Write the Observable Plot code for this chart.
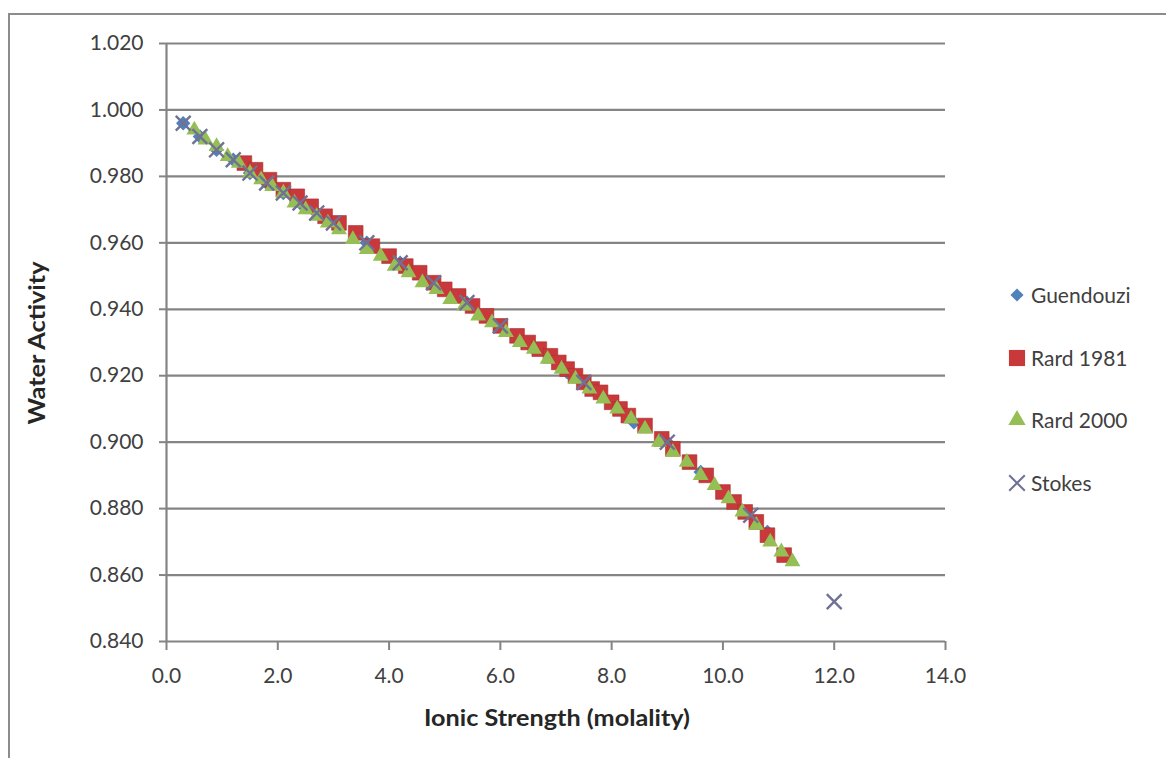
<!DOCTYPE html>
<html><head><meta charset="utf-8">
<script src="https://cdn.jsdelivr.net/npm/d3@7"></script>
<script src="https://cdn.jsdelivr.net/npm/@observablehq/plot@0.6"></script>
<style>
body{margin:0;background:#fff;}
#wrap{position:relative;width:1166px;height:758px;overflow:hidden;font-family:Lato,sans-serif;}
#frame{position:absolute;left:8px;top:13px;width:1300px;height:900px;border-left:2px solid #8c8c8c;border-top:2px solid #8c8c8c;}
#chart{position:absolute;left:0;top:0;}
#legend{position:absolute;left:0;top:0;}
</style></head><body>
<div id="wrap"><div id="frame"></div><div id="chart"></div></div>
<script>
// ---- data ----
const seriesNames = ["Guendouzi", "Rard 1981", "Rard 2000", "Stokes"];
const xTicks = [0, 2, 4, 6, 8, 10, 12, 14];
const yTicks = [0.84, 0.86, 0.88, 0.90, 0.92, 0.94, 0.96, 0.98, 1.00, 1.02];

const guendouziI  = [0.3,0.6,0.9,1.2,1.5,1.8,2.1,2.4,2.7,3.0,3.6,4.2,4.8,5.4,6.0,6.6,7.2,7.8,8.4,9.0,9.6,10.2,10.8];
const guendouziAw = [0.996,0.992,0.988,0.985,0.981,0.978,0.975,0.972,0.969,0.966,0.960,0.954,0.948,0.942,0.935,0.928,0.921,0.914,0.906,0.900,0.891,0.882,0.873];

const rard1981I  = [1.4,1.6,1.85,2.1,2.35,2.6,2.85,3.1,3.4,3.7,4.0,4.3,4.55,4.8,5.0,5.25,5.5,5.75,6.0,6.3,6.5,6.7,6.9,7.05,7.2,7.35,7.5,7.65,7.8,8.0,8.15,8.3,8.6,8.9,9.1,9.4,9.7,10.0,10.2,10.4,10.6,10.8,11.1];
const rard1981Aw = [0.984,0.982,0.979,0.976,0.974,0.971,0.968,0.966,0.963,0.959,0.956,0.953,0.951,0.948,0.946,0.944,0.941,0.938,0.935,0.932,0.930,0.928,0.926,0.924,0.922,0.920,0.918,0.916,0.915,0.912,0.910,0.908,0.905,0.901,0.898,0.894,0.890,0.885,0.882,0.879,0.876,0.872,0.866];

const rard2000I  = [0.5,0.7,0.9,1.1,1.3,1.5,1.7,1.9,2.1,2.3,2.5,2.7,2.9,3.1,3.35,3.6,3.85,4.1,4.35,4.6,4.85,5.1,5.35,5.6,5.85,6.1,6.35,6.6,6.85,7.1,7.35,7.6,7.85,8.1,8.35,8.6,8.85,9.1,9.35,9.6,9.85,10.1,10.35,10.6,10.85,11.05,11.25];
const rard2000Aw = [0.994,0.991,0.989,0.986,0.984,0.981,0.979,0.977,0.975,0.972,0.970,0.968,0.966,0.964,0.961,0.958,0.956,0.953,0.951,0.948,0.946,0.943,0.941,0.938,0.936,0.933,0.930,0.928,0.925,0.922,0.919,0.916,0.913,0.910,0.907,0.904,0.900,0.897,0.894,0.890,0.887,0.883,0.879,0.875,0.870,0.867,0.864];

const stokesI  = [0.3,0.6,0.9,1.2,1.5,1.8,2.1,2.4,2.7,3.0,3.6,4.2,4.8,5.4,6.0,7.5,9.0,10.5,12.0];
const stokesAw = [0.996,0.992,0.988,0.985,0.981,0.978,0.975,0.972,0.969,0.966,0.960,0.954,0.948,0.942,0.935,0.918,0.900,0.878,0.852];

const colors = {"Guendouzi":"#4F81BD","Rard 1981":"#C9383A","Rard 2000":"#95BF55","Stokes":"#6F7294"};

const toRows = (xs, ys, s) => xs.map((v, i) => ({I: v, aw: ys[i], series: s}));
const guendouzi = toRows(guendouziI, guendouziAw, "Guendouzi");
const rard1981 = toRows(rard1981I, rard1981Aw, "Rard 1981");
const rard2000 = toRows(rard2000I, rard2000Aw, "Rard 2000");
const stokes = toRows(stokesI, stokesAw, "Stokes");

const grid = "#848484";
const plot = Plot.plot({
  width: 1166, height: 758,
  marginLeft: 166, marginRight: 221, marginTop: 43, marginBottom: 117,
  style: {fontFamily: "Lato, sans-serif", fontSize: "21px", color: "#404040", background: "transparent", overflow: "visible"},
  x: {domain: [0, 14]},
  y: {domain: [0.84, 1.02]},
  marks: [
    Plot.ruleY(yTicks, {stroke: grid, strokeWidth: 2.2}),
    Plot.ruleX([0], {stroke: grid, strokeWidth: 2.2}),
    Plot.axisY({ticks: yTicks, tickFormat: d => d.toFixed(3), tickSize: 7, tickPadding: 16, stroke: grid, strokeWidth: 2, fill: "#404040", label: null}),
    Plot.axisX({ticks: xTicks, tickFormat: d => d.toFixed(1), tickSize: 9, tickPadding: 18, stroke: grid, strokeWidth: 2, fill: "#404040", label: null}),
    Plot.dot(guendouzi, {x: "I", y: "aw", symbol: "diamond2", r: 6.5, fill: colors["Guendouzi"], stroke: "none"}),
    Plot.dot(rard1981, {x: "I", y: "aw", symbol: "square", r: 8.3, fill: colors["Rard 1981"], stroke: "#A8302F", strokeWidth: 0.6}),
    Plot.dot(rard2000, {x: "I", y: "aw", symbol: "triangle", r: 5.9, fill: colors["Rard 2000"], stroke: "none"}),
    Plot.dot(stokes, {x: "I", y: "aw", symbol: "times", r: 6.8, stroke: colors["Stokes"], strokeWidth: 2.4, fill: "none"})
  ]
});
document.getElementById("chart").appendChild(plot);

const svg = d3.select(plot);
svg.append("text").attr("x", 557).attr("y", 726).attr("text-anchor", "middle")
  .attr("font-family", "Lato, sans-serif").attr("font-weight", "bold").attr("font-size", 22).attr("fill", "#262626")
  .attr("textLength", 266).attr("lengthAdjust", "spacingAndGlyphs")
  .text("Ionic Strength (molality)");
svg.append("text").attr("transform", "translate(45,343) rotate(-90)").attr("text-anchor", "middle")
  .attr("font-family", "Lato, sans-serif").attr("font-weight", "bold").attr("font-size", 22).attr("fill", "#262626")
  .attr("textLength", 163).attr("lengthAdjust", "spacingAndGlyphs")
  .text("Water Activity");

// ---- legend ----
const legendSymbols = {"Guendouzi": d3.symbolDiamond2, "Rard 1981": d3.symbolSquare, "Rard 2000": d3.symbolTriangle, "Stokes": d3.symbolTimes};
const legendSizes = {"Guendouzi": 110, "Rard 1981": 260, "Rard 2000": 130, "Stokes": 160};
const legendRowY = [295, 358, 420, 483];
const lg = d3.select("#wrap").append("svg").attr("id", "legend").attr("width", 1166).attr("height", 758);
seriesNames.forEach((s, i) => {
  const g = lg.append("g").attr("transform", `translate(1017,${legendRowY[i]})`);
  const p = g.append("path").attr("d", d3.symbol(legendSymbols[s], legendSizes[s])());
  if (s === "Stokes") p.attr("fill", "none").attr("stroke", colors[s]).attr("stroke-width", 2);
  else p.attr("fill", colors[s]);
  g.append("text").attr("x", 14).attr("y", 0).attr("dy", "0.36em")
    .attr("font-family", "Lato, sans-serif").attr("font-size", 21).attr("fill", "#404040").text(s);
});
</script>
</body></html>
